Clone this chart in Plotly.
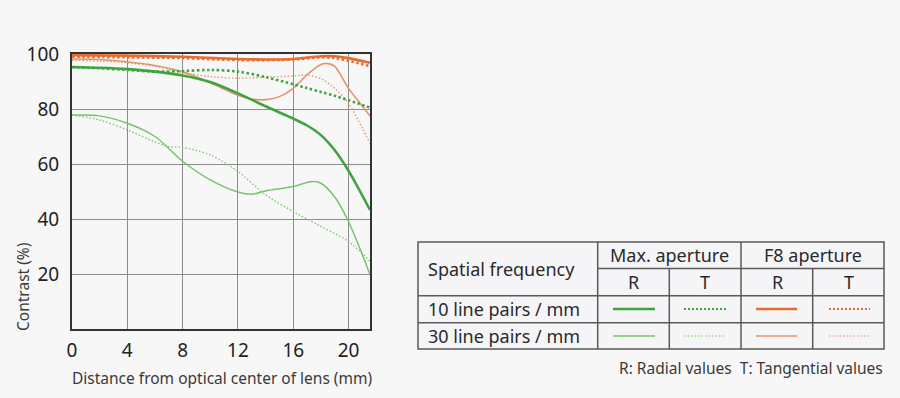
import plotly.graph_objects as go

# ---- data ----
max_r10_x = [0, 2, 4, 6, 8, 10, 12, 14, 16, 17, 18, 19, 20, 21.55]
max_r10_y = [95.3, 95.0, 94.5, 93.6, 92.2, 89.8, 85.7, 81.0, 76.5, 74.0, 70.5, 65.0, 57.5, 43.3]

max_t10_x = [0, 2, 4, 6, 8, 10, 12, 14, 16, 17, 18, 19, 20, 21.55]
max_t10_y = [95.2, 94.8, 94.2, 93.6, 93.8, 94.2, 93.6, 91.6, 89.0, 87.6, 86.2, 84.8, 83.2, 80.5]

max_r30_x = [0, 2, 4, 6, 8, 10, 12, 13, 14, 16, 17, 17.5, 18, 19, 20, 21.55]
max_r30_y = [77.8, 77.5, 74.8, 70.0, 61.0, 54.2, 49.8, 49.0, 50.2, 51.8, 53.3, 53.6, 53.0, 48.0, 39.0, 19.8]

max_t30_x = [0, 2, 4, 6, 7, 8, 10, 12, 14, 16, 18, 20, 21.55]
max_t30_y = [77.8, 76.0, 72.4, 68.0, 66.3, 66.0, 63.3, 57.3, 48.8, 42.7, 37.3, 31.8, 24.6]

f8_r10_x = [0, 4, 8, 12, 14, 16, 18, 19, 20, 21.55]
f8_r10_y = [99.6, 99.4, 99.0, 98.2, 98.0, 98.2, 99.2, 99.2, 98.5, 96.8]

f8_t10_x = [0, 4, 8, 12, 16, 18, 19, 20, 21.55]
f8_t10_y = [99.0, 98.8, 98.5, 97.8, 98.0, 98.8, 98.5, 97.5, 95.6]

f8_r30_x = [0, 2, 4, 6, 8, 10, 12, 13, 14, 15, 16, 17, 18, 18.5, 19, 20, 21, 21.55]
f8_r30_y = [98.2, 98.0, 97.2, 95.8, 93.5, 89.5, 85.0, 83.6, 83.4, 84.5, 87.5, 92.5, 96.2, 96.5, 95.5, 87.5, 81.0, 77.5]

f8_t30_x = [0, 2, 4, 6, 8, 10, 12, 14, 16, 17, 18, 19, 20, 21, 21.55]
f8_t30_y = [97.6, 97.4, 96.8, 95.5, 93.3, 91.8, 91.2, 91.6, 92.0, 92.3, 91.0, 87.5, 82.0, 73.0, 67.5]

x_ticks = [0, 4, 8, 12, 16, 20]
y_ticks = [20, 40, 60, 80, 100]

# ---- styles ----
G_THICK = "rgb(62,165,62)"
G_THIN = "rgb(120,196,110)"
O_THICK = "rgb(232,108,48)"
O_THIN = "rgb(226,148,108)"
BG = "#f7f7f7"
FONT = "Noto Sans"

series = [
    (max_t30_x, max_t30_y, G_THIN, 1.3, "1.5px,2px"),
    (max_r30_x, max_r30_y, G_THIN, 1.5, "solid"),
    (f8_t30_x, f8_t30_y, O_THIN, 1.3, "1.5px,2px"),
    (f8_r30_x, f8_r30_y, O_THIN, 1.6, "solid"),
    (max_t10_x, max_t10_y, G_THICK, 2.6, "2.5px,2.5px"),
    (max_r10_x, max_r10_y, G_THICK, 2.6, "solid"),
    (f8_t10_x, f8_t10_y, O_THICK, 2.6, "2.5px,2.5px"),
    (f8_r10_x, f8_r10_y, O_THICK, 2.6, "solid"),
]

fig = go.Figure()
for xs, ys, col, w, dash in series:
    fig.add_trace(go.Scatter(x=xs, y=ys, mode="lines",
                             line=dict(color=col, width=w, dash=dash, shape="spline", smoothing=0.9),
                             hoverinfo="skip", showlegend=False))

W, H = 900, 398
ML, MR, MT, MB = 72, 530, 54, 69
PW, PH = W - ML - MR, H - MT - MB


def px(x):
    return (x - ML) / PW


def py(y):
    return (H - MB - y) / PH


shapes = []
# table grid
TL, TR, TT, TB = 418, 884, 242, 349
GRID = dict(color="#5a5a5a", width=1.5)
shapes.append(dict(type="rect", xref="paper", yref="paper", x0=px(TL), x1=px(TR), y0=py(TT), y1=py(TB),
                   line=GRID, fillcolor="#f5f5f7", layer="below"))
for yy in [295.7, 322.7]:
    shapes.append(dict(type="line", xref="paper", yref="paper", x0=px(TL), x1=px(TR), y0=py(yy), y1=py(yy), line=GRID))
shapes.append(dict(type="line", xref="paper", yref="paper", x0=px(597.7), x1=px(TR), y0=py(268.5), y1=py(268.5), line=GRID))
shapes.append(dict(type="line", xref="paper", yref="paper", x0=px(597.7), x1=px(597.7), y0=py(TT), y1=py(TB), line=GRID))
shapes.append(dict(type="line", xref="paper", yref="paper", x0=px(741), x1=px(741), y0=py(TT), y1=py(TB), line=GRID))
for xx in [669.3, 812.7]:
    shapes.append(dict(type="line", xref="paper", yref="paper", x0=px(xx), x1=px(xx), y0=py(268.5), y1=py(TB), line=GRID))

# legend samples
samples = [
    (613, 655, 309, G_THICK, 2.6, "solid"),
    (684, 726, 309, G_THICK, 2.0, "2px,2px"),
    (756, 797, 309, O_THICK, 2.6, "solid"),
    (829, 870, 309, O_THICK, 2.0, "2px,2px"),
    (613, 655, 336, G_THIN, 1.4, "solid"),
    (684, 726, 336, G_THIN, 1.2, "1.5px,2px"),
    (756, 797, 336, O_THIN, 1.6, "solid"),
    (829, 870, 336, O_THIN, 1.2, "1.5px,2px"),
]
for x0, x1, yy, col, w, dash in samples:
    shapes.append(dict(type="line", xref="paper", yref="paper", x0=px(x0), x1=px(x1), y0=py(yy), y1=py(yy),
                       line=dict(color=col, width=w, dash=dash)))

TXT = "#2a2a2a"
ann = []


def text(x, y, s, size=18, xanchor="center", color=TXT, angle=0):
    ann.append(dict(x=px(x), y=py(y), xref="paper", yref="paper", text=s, showarrow=False,
                    xanchor=xanchor, yanchor="middle", textangle=angle,
                    font=dict(family=FONT, size=size, color=color)))


text(426, 269, "Spatial frequency", xanchor="left")
text(669.3, 255, "Max. aperture")
text(812.5, 255, "F8 aperture")
for cx, s in [(633.5, "R"), (705, "T"), (777, "R"), (848.5, "T")]:
    text(cx, 282, s)
text(426, 309, "10 line pairs / mm", xanchor="left")
text(426, 336, "30 line pairs / mm", xanchor="left")
text(885, 368, "R: Radial values  T: Tangential values", size=15.5, xanchor="right", color="#3a3a3a")
text(222, 378, "Distance from optical center of lens (mm)", size=15.5, color="#3a3a3a")
text(23, 286, "Contrast (%)", size=15.5, color="#3a3a3a", angle=-90)

fig.update_layout(
    width=W, height=H,
    margin=dict(l=ML, r=MR, t=MT, b=MB, pad=0),
    paper_bgcolor=BG, plot_bgcolor=BG,
    shapes=shapes, annotations=ann,
    font=dict(family=FONT, color=TXT),
)
fig.update_xaxes(range=[0, 21.55], tickvals=x_ticks, ticktext=[str(v) for v in x_ticks],
                 showgrid=True, gridcolor="#8c8c8c", gridwidth=1, zeroline=False,
                 showline=True, linecolor="#333333", linewidth=2, mirror=True,
                 tickfont=dict(family=FONT, size=19, color="#222222"), ticks="", ticklabelstandoff=3)
fig.update_yaxes(range=[0, 100], tickvals=y_ticks, ticktext=[str(v) for v in y_ticks],
                 showgrid=True, gridcolor="#8c8c8c", gridwidth=1, zeroline=False,
                 showline=True, linecolor="#333333", linewidth=2, mirror=True,
                 tickfont=dict(family=FONT, size=19, color="#222222"), ticks="", ticklabelstandoff=7)

fig.write_html("out.html", config={"displayModeBar": False, "staticPlot": True},
               post_script="document.body.style.margin='0';document.body.style.background='#f7f7f7';")
